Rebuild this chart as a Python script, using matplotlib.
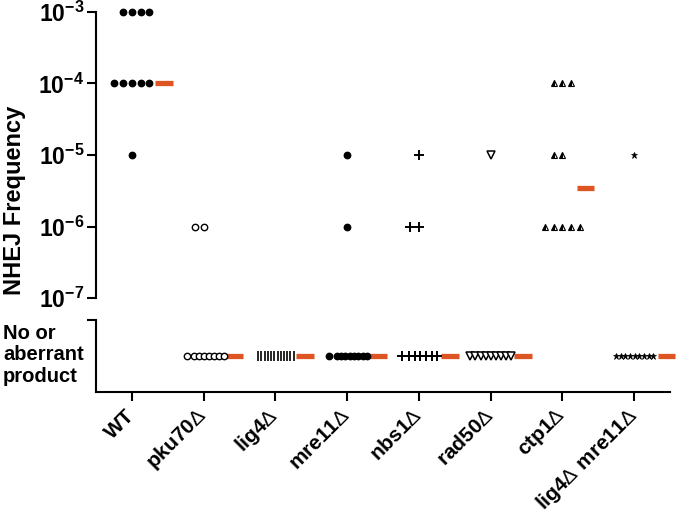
import numpy as np
import matplotlib
matplotlib.use("Agg")
import matplotlib.pyplot as plt

plt.rcParams["font.family"] = ["Liberation Sans", "DejaVu Sans"]
plt.rcParams["mathtext.fontset"] = "custom"
plt.rcParams["mathtext.rm"] = "Liberation Sans"
plt.rcParams["mathtext.bf"] = "Liberation Sans:bold"

# strains (x categories)
strains = [r"$\mathbf{WT}$", r"$\mathbf{pku70}\Delta$", r"$\mathbf{lig4}\Delta$",
           r"$\mathbf{mre11}\Delta$", r"$\mathbf{nbs1}\Delta$", r"$\mathbf{rad50}\Delta$",
           r"$\mathbf{ctp1}\Delta$", r"$\mathbf{lig4}\Delta\ \mathbf{mre11}\Delta$"]

# NHEJ frequency observations: (frequency, number of isolates) per strain
upper_data = [
    [(1e-3, 4), (1e-4, 5), (1e-5, 1)],
    [(1e-6, 2)],
    [],
    [(1e-5, 1), (1e-6, 1)],
    [(1e-5, 1), (1e-6, 2)],
    [(1e-5, 1)],
    [(1e-4, 3), (1e-5, 2), (1e-6, 5)],
    [(1e-5, 1)],
]
# isolates with no or aberrant product
no_product = [0, 8, 12, 9, 7, 9, 0, 9]
# median (0 = in the "no product" row)
medians = [1e-4, 0, 0, 0, 0, 0, 3.5e-6, 0]

y_ticks = [1e-3, 1e-4, 1e-5, 1e-6, 1e-7]
y_ticklabels = [r"$\mathbf{10^{-3}}$", r"$\mathbf{10^{-4}}$", r"$\mathbf{10^{-5}}$",
                r"$\mathbf{10^{-6}}$", r"$\mathbf{10^{-7}}$"]

# marker styles per strain
styles = [
    dict(marker="o", mfc="black", mec="black", ms=4.6),
    dict(marker="o", mfc="white", mec="black", ms=4.6, mew=1.0),
    dict(marker="|", mfc="black", mec="black", ms=7, mew=1.2),
    dict(marker="o", mfc="black", mec="black", ms=4.6),
    dict(marker="+", mfc="black", mec="black", ms=6.5, mew=1.4),
    dict(marker="v", mfc="white", mec="black", ms=5.5, mew=1.1),
    dict(marker="^", fillstyle="left", mfc="black", mfcalt="white", mec="black", ms=5, mew=0.8),
    dict(marker="*", mfc="black", mec="black", ms=4.5, mew=0.5),
]

# layout of the scatter columns (pixel offsets relative to category)
PX = 71.7
STEP = 8.7
upper_first_slot = [[-1, -2, 0], [-1], [], [0, 0], [0, -1], [0], [-1, -1, -2], [0]]
lower_segments = [
    [],
    [(-17, 0, 1), (-10, 5, 7)],
    [(-17.3, 3.24, 12)],
    [(-17.7, 0, 1), (-10.3, 4.29, 8)],
    [(-17.3, 0, 1), (-10, 5.67, 5), (17.7, 0, 1)],
    [(-20.3, 5.1, 9)],
    [],
    [(-18, 4.66, 9)],
]
bar_offset = [0.45, 0.43, 0.41, 0.43, 0.43, 0.45, 0.32, 0.45]
bar_half = 0.123
orange = "#DD5522"

fig = plt.figure(figsize=(6.77, 5.19), dpi=100)
ax = fig.add_axes([0.1418, 0.4258, 0.8479, 0.5511])
axl = fig.add_axes([0.1418, 0.2447, 0.8479, 0.1387])

for i in range(len(strains)):
    for (val, n), slot in zip(upper_data[i], upper_first_slot[i]):
        xs = i + (slot + np.arange(n)) * STEP / PX
        ax.plot(xs, [val] * n, ls="none", clip_on=False, zorder=3, **styles[i])
    if n_lower := no_product[i]:
        xs = []
        for start, step, n in lower_segments[i]:
            xs += list(start + step * np.arange(n))
        xs = i + np.array(xs) / PX
        axl.plot(xs, [0.5] * len(xs), ls="none", clip_on=False, zorder=3, **styles[i])
    c = i + bar_offset[i]
    if medians[i] > 0:
        ax.hlines(medians[i], c - bar_half, c + bar_half, color=orange, lw=3.8, clip_on=False)
    else:
        axl.hlines(0.5, c - bar_half, c + bar_half, color=orange, lw=3.8, clip_on=False)

ax.set_yscale("log")
ax.set_ylim(1e-7, 1e-3)
ax.set_xlim(-0.5, 7.5)
ax.set_yticks(y_ticks)
ax.set_yticklabels(y_ticklabels, fontsize=16.5)
ax.minorticks_off()
ax.set_xticks([])
for s in ["top", "right", "bottom"]:
    ax.spines[s].set_visible(False)
ax.spines["left"].set_linewidth(1.5)
ax.tick_params(axis="y", length=6.5, width=1.5, pad=2)

axl.set_xlim(-0.5, 7.5)
axl.set_ylim(0, 1)
axl.set_yticks([1])
axl.set_yticklabels([""])
axl.set_xticks(range(len(strains)))
axl.set_xticklabels(strains, rotation=45, ha="right", va="center",
                    rotation_mode="anchor", fontsize=15)
for s in ["top", "right"]:
    axl.spines[s].set_visible(False)
for s in ["left", "bottom"]:
    axl.spines[s].set_linewidth(1.5)
axl.tick_params(length=6.5, width=1.5)
axl.tick_params(axis="x", pad=8)

fig.text(15 / 677, 1 - 200 / 519, "NHEJ Frequency", rotation=90, ha="center",
         va="center", fontsize=17, fontweight="bold")
fig.text(3 / 677, 1 - 355 / 519, "No or\naberrant\nproduct", ha="left", va="center",
         fontsize=14.5, fontweight="bold", linespacing=1.15)

fig.savefig("out.png", dpi=100)
